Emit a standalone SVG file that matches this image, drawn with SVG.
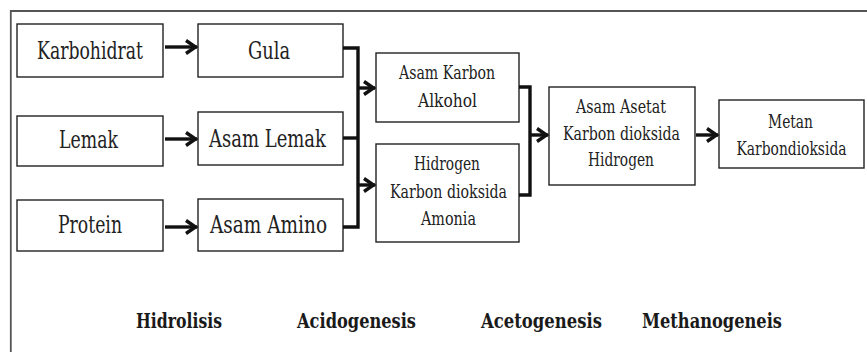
<svg xmlns="http://www.w3.org/2000/svg" width="867" height="352" viewBox="0 0 867 352">
<style>
  .box rect { fill: #fff; stroke: #222; stroke-width: 1.4; }
  .t { font-family: 'DejaVu Serif', 'Liberation Serif', serif; fill: #222; text-anchor: middle; }
  .big { font-size: 24px; }
  .sm { font-size: 18.5px; }
  .lab { font-family: 'DejaVu Serif', 'Liberation Serif', serif; font-weight: bold; font-size: 20px; fill: #1a1a1a; text-anchor: middle; }
  .conn path { fill: none; stroke: #111; stroke-width: 3.4; stroke-linejoin: miter; }
</style>
<defs>
  <marker id="ah" markerUnits="userSpaceOnUse" viewBox="-14 -10 16 20" markerWidth="16" markerHeight="20" refX="0" refY="0" orient="auto" overflow="visible">
    <path d="M-11,-6.5 L-1.5,0 L-11,6.5" fill="none" stroke="#111" stroke-width="3.4"/>
  </marker>
</defs>
<rect x="0" y="0" width="867" height="352" fill="#fff"/>
<path d="M10.8,352 L10.8,11 L867,11" fill="none" stroke="#555" stroke-width="1.8"/>

<g id="karbohidrat" class="box"><rect x="17" y="24" width="146" height="53"/><text class="t big" x="90" y="59" textLength="106" lengthAdjust="spacingAndGlyphs">Karbohidrat</text></g>
<g id="gula" class="box"><rect x="198" y="24" width="145" height="53"/><text class="t big" x="269" y="59" textLength="42" lengthAdjust="spacingAndGlyphs">Gula</text></g>
<g id="lemak" class="box"><rect x="17" y="116" width="146" height="50"/><text class="t big" x="88.5" y="148" textLength="59" lengthAdjust="spacingAndGlyphs">Lemak</text></g>
<g id="asam-lemak" class="box"><rect x="198" y="112" width="145" height="53"/><text class="t big" x="267.5" y="147" textLength="117" lengthAdjust="spacingAndGlyphs">Asam Lemak</text></g>
<g id="protein" class="box"><rect x="17" y="200" width="146" height="51"/><text class="t big" x="90" y="233" textLength="64" lengthAdjust="spacingAndGlyphs">Protein</text></g>
<g id="asam-amino" class="box"><rect x="198" y="199" width="145" height="52"/><text class="t big" x="268.5" y="233" textLength="117" lengthAdjust="spacingAndGlyphs">Asam Amino</text></g>
<g id="asam-karbon" class="box"><rect x="376" y="53" width="143" height="69"/>
  <text class="t sm" x="447" y="79" textLength="96" lengthAdjust="spacingAndGlyphs">Asam Karbon</text>
  <text class="t sm" x="447.5" y="107" textLength="59" lengthAdjust="spacingAndGlyphs">Alkohol</text></g>
<g id="hidrogen" class="box"><rect x="376" y="144" width="143" height="98"/>
  <text class="t sm" x="447" y="170" textLength="66" lengthAdjust="spacingAndGlyphs">Hidrogen</text>
  <text class="t sm" x="448.5" y="198" textLength="117" lengthAdjust="spacingAndGlyphs">Karbon dioksida</text>
  <text class="t sm" x="448.5" y="225" textLength="55" lengthAdjust="spacingAndGlyphs">Amonia</text></g>
<g id="asam-asetat" class="box"><rect x="549" y="87" width="146" height="98"/>
  <text class="t sm" x="621" y="113" textLength="90" lengthAdjust="spacingAndGlyphs">Asam Asetat</text>
  <text class="t sm" x="621.5" y="140" textLength="117" lengthAdjust="spacingAndGlyphs">Karbon dioksida</text>
  <text class="t sm" x="621" y="166" textLength="66" lengthAdjust="spacingAndGlyphs">Hidrogen</text></g>
<g id="metan" class="box"><rect x="719" y="100" width="145" height="68"/>
  <text class="t sm" x="790.5" y="128" textLength="45" lengthAdjust="spacingAndGlyphs">Metan</text>
  <text class="t sm" x="791.5" y="155" textLength="110" lengthAdjust="spacingAndGlyphs">Karbondioksida</text></g>

<g id="connectors" class="conn">
  <path d="M165,47 L197,47" marker-end="url(#ah)"/>
  <path d="M165,139 L197,139" marker-end="url(#ah)"/>
  <path d="M165,227 L197,227" marker-end="url(#ah)"/>
  <path d="M343,48 L358,48 L358,227 L343,227"/>
  <path d="M343,138 L358,138"/>
  <path d="M358,88 L375,88" marker-end="url(#ah)"/>
  <path d="M358,185 L375,185" marker-end="url(#ah)"/>
  <path d="M519,87 L530,87 L530,195 L519,195"/>
  <path d="M530,135 L548,135" marker-end="url(#ah)"/>
  <path d="M696,135 L718,135" marker-end="url(#ah)"/>
</g>

<g id="stages">
  <text class="lab" x="179" y="328" textLength="86" lengthAdjust="spacingAndGlyphs">Hidrolisis</text>
  <text class="lab" x="356.5" y="328" textLength="119" lengthAdjust="spacingAndGlyphs">Acidogenesis</text>
  <text class="lab" x="541.5" y="328" textLength="121" lengthAdjust="spacingAndGlyphs">Acetogenesis</text>
  <text class="lab" x="712" y="328" textLength="140" lengthAdjust="spacingAndGlyphs">Methanogeneis</text>
</g>
</svg>
